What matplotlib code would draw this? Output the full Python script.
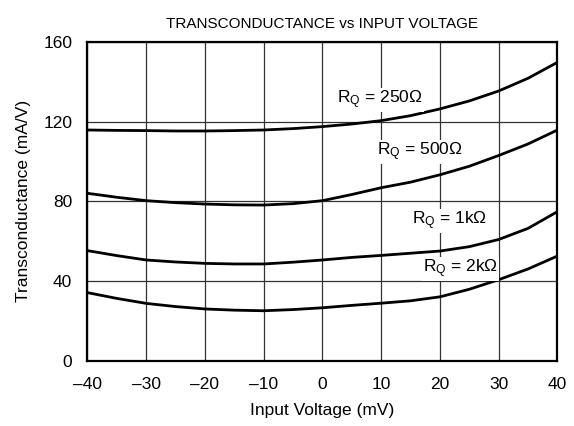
import matplotlib
matplotlib.use("Agg")
import matplotlib.pyplot as plt

plt.rcParams['font.family'] = ['Liberation Sans', 'DejaVu Sans']
plt.rcParams['mathtext.default'] = 'regular'

# input voltage (mV), read every 5 mV off the curves
vin = [-40, -35, -30, -25, -20, -15, -10, -5, 0, 5, 10, 15, 20, 25, 30, 35, 40]
gm_250 = [115.8, 115.6, 115.5, 115.3, 115.3, 115.5, 115.8, 116.5, 117.5, 118.8,
          120.5, 123.0, 126.4, 130.4, 135.4, 141.8, 149.8]
gm_500 = [84.0, 82.0, 80.3, 79.3, 78.6, 78.2, 78.1, 78.8, 80.3, 83.4,
          86.8, 89.6, 93.3, 97.6, 103.0, 108.8, 115.8]
gm_1k = [55.2, 52.7, 50.5, 49.5, 48.8, 48.5, 48.5, 49.4, 50.5, 51.8,
         52.8, 53.9, 55.0, 57.2, 60.8, 66.4, 74.8]
gm_2k = [34.1, 31.2, 28.7, 27.1, 25.9, 25.3, 25.0, 25.6, 26.5, 27.7,
         28.8, 30.0, 32.0, 35.8, 40.6, 46.0, 52.5]

xticks = [-40, -30, -20, -10, 0, 10, 20, 30, 40]
xticklabels = ['\u201340', '\u201330', '\u201320', '\u201310', '0', '10', '20', '30', '40']
yticks = [0, 40, 80, 120, 160]

# label text, x, baseline y
labels = [('R$_Q$ = 250\u03a9', 2.5, 129.1),
          ('R$_Q$ = 500\u03a9', 9.3, 102.9),
          ('R$_Q$ = 1k\u03a9', 15.2, 68.2),
          ('R$_Q$ = 2k\u03a9', 17.1, 44.4)]

fig = plt.figure(figsize=(5.74, 4.26), dpi=100)
ax = fig.add_axes([0.1524, 0.1537, 0.8188, 0.7477])

for gm in (gm_250, gm_500, gm_1k, gm_2k):
    ax.plot(vin, gm, color='black', lw=2.0, zorder=3)

for txt, x, y in labels:
    ax.text(x, y, txt, fontsize=12.5, ha='left', va='baseline', zorder=4,
            bbox=dict(facecolor='white', edgecolor='none', pad=0.5))

ax.set_xlim(-40, 40)
ax.set_ylim(0, 160)
ax.set_xticks(xticks)
ax.set_xticklabels(xticklabels)
ax.set_yticks(yticks)
ax.tick_params(length=0, labelsize=12.5, pad=11)
ax.tick_params(axis='x', pad=12)
ax.grid(True, color='0.2', lw=0.9)
ax.set_axisbelow(True)
for s in ax.spines.values():
    s.set_linewidth(1.6)

ax.set_xlabel('Input Voltage (mV)', fontsize=12.5, labelpad=8)
ax.set_ylabel('Transconductance (mA/V)', fontsize=12.5, labelpad=9)
ax.set_title('TRANSCONDUCTANCE vs INPUT VOLTAGE', fontsize=11, pad=10)

fig.savefig('out.png', dpi=100)
